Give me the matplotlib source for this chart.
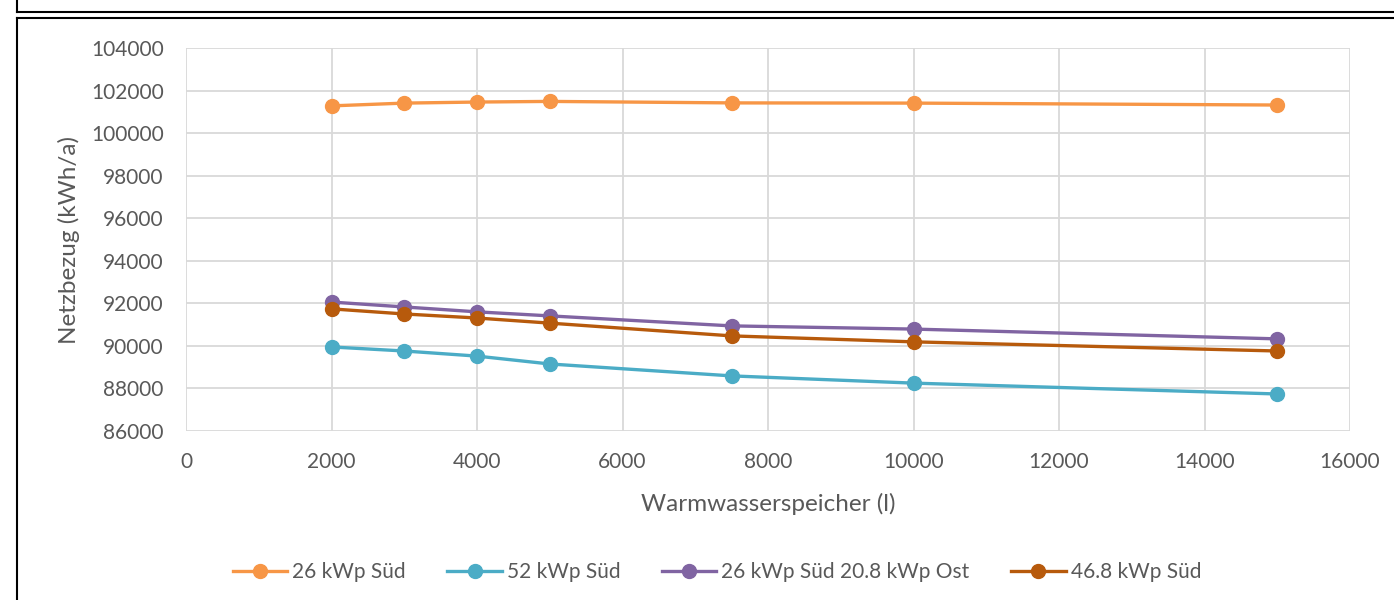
import matplotlib.pyplot as plt
from matplotlib.lines import Line2D

plt.rcParams['font.family'] = ['Lato', 'DejaVu Sans']

# Speichergrößen (l)
speicher = [2000, 3000, 4000, 5000, 7500, 10000, 15000]

# Netzbezug (kWh/a) je Variante
sued_26 = [101280, 101410, 101460, 101490, 101420, 101410, 101320]
sued_52 = [89950, 89760, 89520, 89150, 88590, 88250, 87740]
sued_ost = [92060, 91830, 91600, 91410, 90940, 90790, 90330]
sued_468 = [91740, 91500, 91310, 91070, 90470, 90190, 89760]

labels = ['26 kWp Süd', '52 kWp Süd', '26 kWp Süd 20.8 kWp Ost', '46.8 kWp Süd']
colors = ['#F79646', '#4BACC6', '#8064A2', '#B75A0C']
series = [sued_26, sued_52, sued_ost, sued_468]

fig = plt.figure(figsize=(13.94, 6), dpi=100)
ax = fig.add_axes([186 / 1394, 1 - 431 / 600, (1350 - 186) / 1394, (431 - 48) / 600])

for vals, lab, col in zip(series, labels, colors):
    ax.plot(speicher, vals, color=col, label=lab, marker='o', markersize=10,
            linewidth=2.4, solid_capstyle='round')

ax.set_xlim(0, 16000)
ax.set_ylim(86000, 104000)
ax.set_xticks(range(0, 16001, 2000))
ax.set_yticks(range(86000, 104001, 2000))
ax.grid(True, color='#D9D9D9', linewidth=1.3)
ax.set_axisbelow(True)
for s in ax.spines.values():
    s.set_visible(False)
ax.tick_params(length=0, labelsize=15, colors='#595959')
ax.tick_params(axis='y', pad=16)
ax.tick_params(axis='x', pad=15)
ax.set_xlabel('Warmwasserspeicher (l)', fontsize=17.5, color='#595959', labelpad=15)
ax.set_ylabel('Netzbezug (kWh/a)', fontsize=17.5, color='#595959', labelpad=8)

handles = [Line2D([0], [0], color=c, marker='o', markersize=10, linewidth=2.4) for c in colors]
fig.legend(handles, labels, loc='center', bbox_to_anchor=(717 / 1394, 1 - 572 / 600),
           ncol=4, frameon=False, fontsize=15, labelcolor='#595959',
           handlelength=2.6, columnspacing=2.0, handletextpad=0.25)

# Rahmen der Textfelder
fig.add_artist(Line2D([17 / 1394, 1.0], [1 - 12 / 600] * 2, color='black', linewidth=1.5,
                      transform=fig.transFigure))
fig.add_artist(Line2D([17 / 1394] * 2, [1.0, 1 - 12 / 600], color='black', linewidth=1.5,
                      transform=fig.transFigure))
fig.add_artist(Line2D([17 / 1394, 1.0], [1 - 18 / 600] * 2, color='black', linewidth=1.5,
                      transform=fig.transFigure))
fig.add_artist(Line2D([17 / 1394] * 2, [0.0, 1 - 18 / 600], color='black', linewidth=1.5,
                      transform=fig.transFigure))

fig.savefig('out.png', dpi=100)
